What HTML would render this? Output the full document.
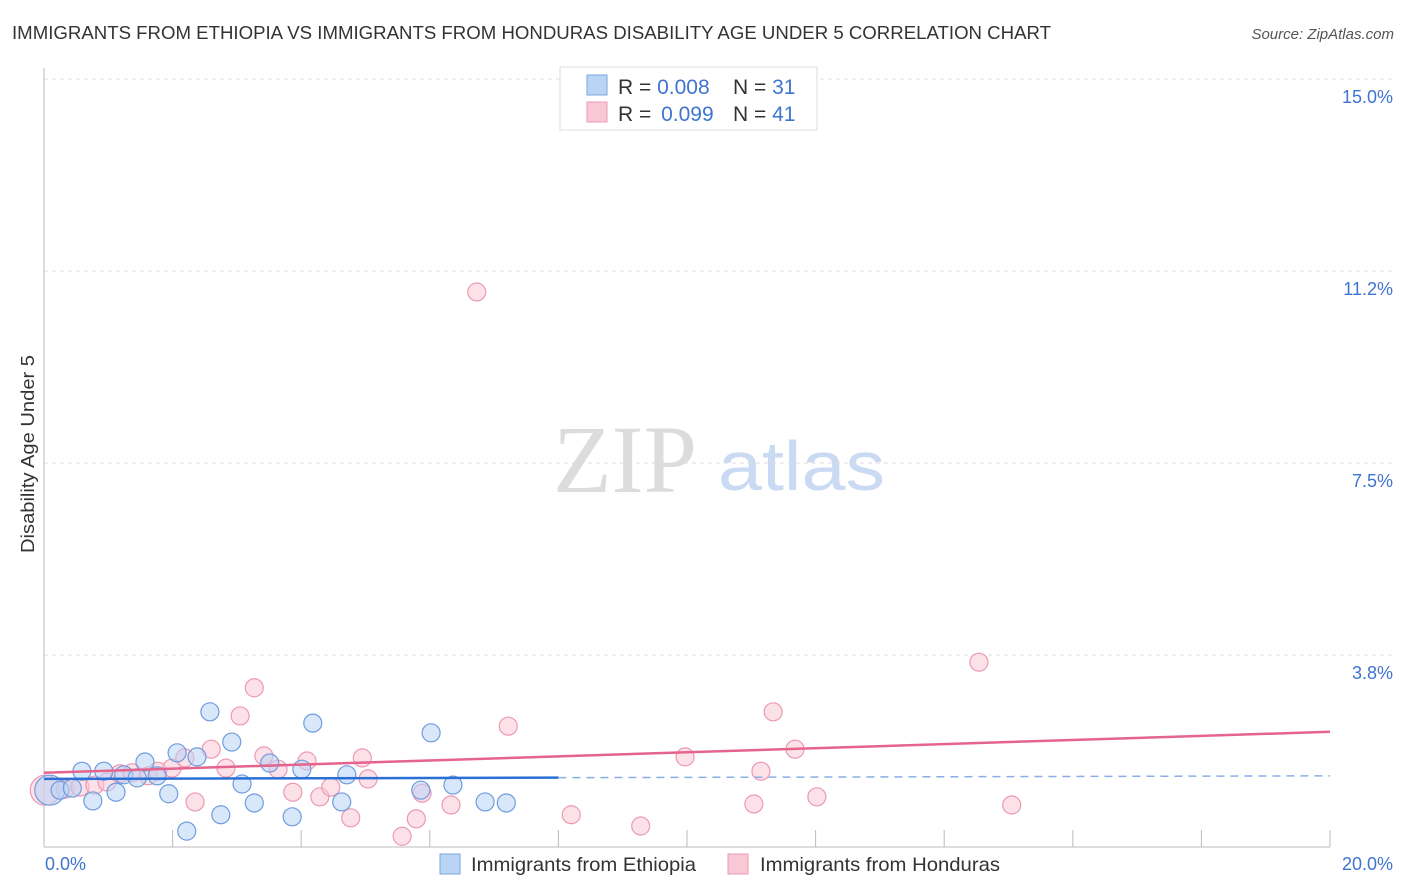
<!DOCTYPE html>
<html><head><meta charset="utf-8"><style>
html,body{margin:0;padding:0;background:#fff;width:1406px;height:892px;overflow:hidden;font-family:"Liberation Sans",sans-serif}
</style></head><body>
<svg id="chart" width="1406" height="892" xmlns="http://www.w3.org/2000/svg" font-family="Liberation Sans, sans-serif">
<text x="12" y="39" font-size="18" fill="#333" textLength="1039" lengthAdjust="spacingAndGlyphs">IMMIGRANTS FROM ETHIOPIA VS IMMIGRANTS FROM HONDURAS DISABILITY AGE UNDER 5 CORRELATION CHART</text>
<text x="1394" y="39" font-size="15" fill="#555" font-style="italic" text-anchor="end">Source: ZipAtlas.com</text>
<g>
<text x="553" y="492" font-size="96" fill="#dcdcdc" font-family="Liberation Serif, serif">ZIP</text>
<text x="718" y="490" font-size="70" fill="#c9daf2" textLength="167" lengthAdjust="spacingAndGlyphs">atlas</text>
</g>
<g id="grid"></g>
<g id="axes"></g>
<g id="marks"></g>
<text transform="translate(34,454) rotate(-90)" font-size="18" fill="#333" text-anchor="middle" textLength="198" lengthAdjust="spacingAndGlyphs">Disability Age Under 5</text>
<g>
<rect x="560" y="67" width="257" height="63" fill="#fff" stroke="#ddd"/>
<rect x="587" y="75" width="20" height="20" fill="#b9d4f5" stroke="#7aa6e0"/>
<rect x="587" y="102" width="20" height="20" fill="#f9c8d6" stroke="#ec9ab2"/>
<text x="618" y="94" font-size="21" fill="#333">R = <tspan fill="#3f74d0">0.008</tspan><tspan x="733">N = </tspan><tspan fill="#3f74d0">31</tspan></text>
<text x="618" y="121" font-size="21" fill="#333">R = <tspan fill="#3f74d0" dx="4">0.099</tspan><tspan x="733">N = </tspan><tspan fill="#3f74d0">41</tspan></text>
</g>
<g>
<rect x="440" y="854" width="20" height="20" fill="#b9d4f5" stroke="#7aa6e0"/>
<text x="471" y="871" font-size="19.5" fill="#333" textLength="225" lengthAdjust="spacingAndGlyphs">Immigrants from Ethiopia</text>
<rect x="728" y="854" width="20" height="20" fill="#f9c8d6" stroke="#ec9ab2"/>
<text x="760" y="871" font-size="19.5" fill="#333" textLength="240" lengthAdjust="spacingAndGlyphs">Immigrants from Honduras</text>
</g>
</svg>
<script>
const yTicks=[3.75,7.5,11.25,15];
const yTickLabels=["3.8%","7.5%","11.2%","15.0%"];
const xTickLabels=["0.0%","20.0%"];
const ethX=[0.09,0.25,0.44,0.59,0.76,0.93,1.12,1.24,1.45,1.57,1.76,1.94,2.07,2.22,2.38,2.58,2.75,2.92,3.08,3.27,3.51,3.86,4.01,4.18,4.63,4.71,5.86,6.02,6.36,6.86,7.19];
const ethY=[1.11,1.11,1.15,1.48,0.90,1.48,1.07,1.41,1.35,1.66,1.39,1.04,1.84,0.31,1.76,2.64,0.63,2.05,1.23,0.86,1.64,0.59,1.52,2.42,0.88,1.41,1.11,2.23,1.21,0.88,0.86];
const honX=[0.02,0.33,0.56,0.79,0.98,1.18,1.37,1.62,1.77,1.99,2.19,2.35,2.60,2.83,3.05,3.27,3.42,3.64,3.87,4.09,4.29,4.46,4.77,4.95,5.04,5.57,5.79,5.88,6.33,6.73,7.22,8.20,9.28,9.97,11.04,11.15,11.34,11.68,12.02,14.54,15.05];
const honY=[1.11,1.13,1.17,1.21,1.27,1.43,1.45,1.39,1.48,1.54,1.74,0.88,1.91,1.54,2.56,3.11,1.78,1.52,1.07,1.68,0.98,1.17,0.57,1.74,1.33,0.21,0.55,1.05,0.82,10.84,2.36,0.63,0.41,1.76,0.84,1.48,2.64,1.91,0.98,3.61,0.82];
const ethTrend=[1.33,1.39];
const honTrend=[1.45,2.25];
const X0=44,X1=1330,Y0=847,YTOP=79;
const xs=v=>X0+(X1-X0)*v/20;
const ys=v=>Y0-(Y0-YTOP)*v/15;
const NS="http://www.w3.org/2000/svg";
function mk(tag,attrs,parent){const e=document.createElementNS(NS,tag);for(const k in attrs)e.setAttribute(k,attrs[k]);parent.appendChild(e);return e;}
const grid=document.getElementById('grid'),axes=document.getElementById('axes'),marks=document.getElementById('marks');
yTicks.forEach((t,i)=>{
 const l=mk('line',{x1:X0,x2:1395,y1:ys(t),y2:ys(t),stroke:'#ddd','stroke-dasharray':'4,4'},grid);
 
 
 const tx=mk('text',{x:1393,y:ys(t)+24,'font-size':18,fill:'#3f74d0','text-anchor':'end'},grid);
 tx.textContent=yTickLabels[i];
 
 
});
const ya=mk('line',{x1:X0,x2:X0,y1:68,y2:Y0,stroke:'#bbb'},axes);


const xa=mk('line',{x1:X0,x2:X1,y1:Y0,y2:Y0,stroke:'#bbb'},axes);


for(let i=1;i<=10;i++){
 const tk=mk('line',{x1:xs(i*2),x2:xs(i*2),y1:830,y2:Y0,stroke:'#bbb'},axes);
 
 
}
const xl0=mk('text',{x:45,y:870,'font-size':18,fill:'#3f74d0'},axes);
xl0.textContent=xTickLabels[0];


const xl1=mk('text',{x:1393,y:870,'font-size':18,fill:'#3f74d0','text-anchor':'end'},axes);
xl1.textContent=xTickLabels[1];


function pts(X,Y,fill,stroke,name){
 X.forEach((x,i)=>{
  const c=mk('circle',{cx:xs(x),cy:ys(Y[i]),r:i===0?15:9,fill:fill,'fill-opacity':0.55,stroke:stroke,'stroke-width':1.2},marks);
  
  
 });
}
pts(honX,honY,'#f9c8d6','#ec9ab2','honduras-point');
pts(ethX,ethY,'#b9d4f5','#6e9ddd','ethiopia-point');
const eS=(ethTrend[1]-ethTrend[0])/20;
const b1=mk('line',{x1:xs(0),y1:ys(ethTrend[0]),x2:xs(8),y2:ys(ethTrend[0]+eS*8),stroke:'#2a6fd6','stroke-width':2.5},marks);


const b2=mk('line',{x1:xs(8),y1:ys(ethTrend[0]+eS*8),x2:xs(20),y2:ys(ethTrend[1]),stroke:'#8aaee6','stroke-width':1.5,'stroke-dasharray':'8,6'},marks);


const p1=mk('line',{x1:xs(0),y1:ys(honTrend[0]),x2:xs(20),y2:ys(honTrend[1]),stroke:'#e5648e','stroke-width':2.5},marks);


</script>
</body></html>
